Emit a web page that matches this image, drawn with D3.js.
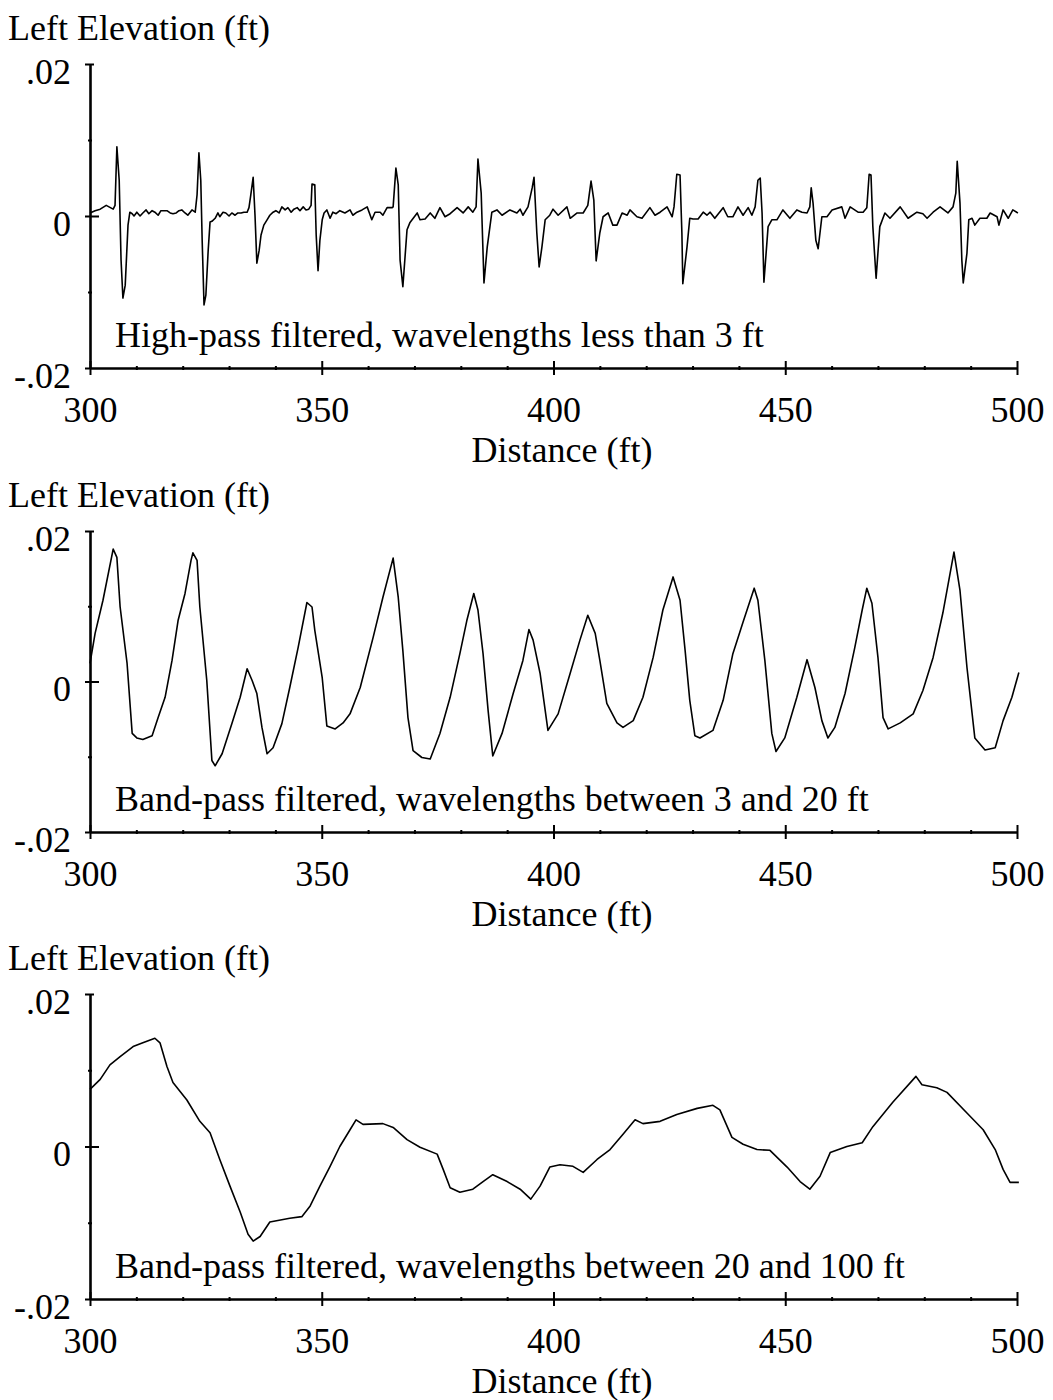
<!DOCTYPE html>
<html>
<head>
<meta charset="utf-8">
<script src="https://cdn.jsdelivr.net/npm/d3@7"></script>
<style>
  body { margin: 0; background: #fff; }
  svg text { font-family: "Liberation Serif", "Times New Roman", serif; fill: #000; }
</style>
</head>
<body>
<svg width="1053" height="1400"></svg>
<script>
// distance (ft), left elevation (ft)
var highPass = [
  [300.0,0.0004],[301.1,0.0007],[302.2,0.0009],[303.5,0.0014],[304.1,0.0012],[305.0,0.0009],[305.4,0.0014],[305.8,0.0091],
  [306.3,0.0047],[306.7,-0.0058],[307.1,-0.0108],[307.6,-0.0091],[308.2,-0.0012],[308.6,0.0005],[309.1,0.0003],[309.5,0.0000],
  [310.1,0.0005],[310.8,0.0000],[311.4,0.0004],[312.1,0.0008],[312.7,0.0003],[313.4,0.0007],[314.0,0.0005],[314.7,0.0001],
  [315.3,0.0007],[316.0,0.0007],[316.6,0.0007],[317.3,0.0004],[317.9,0.0003],[318.6,0.0004],[319.2,0.0007],[319.8,0.0008],
  [320.5,0.0004],[321.1,0.0001],[322.0,0.0008],[322.7,0.0005],[323.1,0.0028],[323.5,0.0083],[323.9,0.0047],[324.2,-0.0032],
  [324.6,-0.0117],[325.0,-0.0104],[325.5,-0.0045],[325.9,-0.0008],[326.3,-0.0007],[327.0,-0.0003],[327.6,0.0004],[328.0,-0.0001],
  [328.7,0.0005],[329.3,0.0004],[330.0,0.0000],[330.6,0.0004],[331.3,0.0001],[331.9,0.0004],[332.6,0.0004],[333.2,0.0005],
  [333.9,0.0005],[334.3,0.0011],[334.7,0.0028],[335.2,0.0051],[335.6,0.0001],[336.0,-0.0062],[336.5,-0.0045],[336.9,-0.0025],
  [337.5,-0.0012],[338.2,-0.0005],[338.8,0.0001],[339.5,0.0005],[340.1,0.0007],[340.8,0.0004],[341.4,0.0012],[342.1,0.0008],
  [342.7,0.0011],[343.4,0.0005],[344.0,0.0009],[344.7,0.0011],[345.3,0.0007],[346.0,0.0012],[346.6,0.0008],[347.2,0.0009],
  [347.7,0.0014],[347.9,0.0042],[348.5,0.0041],[348.8,-0.0025],[349.2,-0.0072],[349.6,-0.0032],[350.1,-0.0005],[350.5,0.0004],
  [351.1,0.0008],[351.8,-0.0003],[352.4,0.0005],[353.1,0.0003],[353.9,0.0007],[355.0,0.0004],[356.1,0.0008],[356.7,0.0001],
  [357.6,0.0005],[358.7,0.0008],[359.8,0.0012],[360.8,-0.0005],[361.5,0.0005],[362.6,0.0005],[363.2,0.0001],[364.1,0.0011],
  [365.2,0.0011],[365.4,0.0012],[366.0,0.0063],[366.5,0.0041],[366.9,-0.0058],[367.5,-0.0093],[368.4,-0.0018],[369.0,-0.0009],
  [370.6,0.0004],[371.2,-0.0005],[372.3,-0.0004],[373.4,0.0004],[374.4,-0.0003],[375.5,0.0011],[376.6,-0.0001],[377.7,0.0003],
  [379.2,0.0011],[380.5,0.0004],[381.6,0.0012],[382.6,0.0005],[383.3,0.0012],[383.7,0.0075],[384.4,0.0030],[385.0,-0.0088],
  [385.7,-0.0041],[386.7,0.0005],[387.8,0.0008],[388.9,0.0001],[390.6,0.0008],[392.1,0.0004],[392.8,0.0009],[393.4,0.0001],
  [394.5,0.0012],[395.4,0.0037],[395.8,0.0051],[396.4,-0.0022],[396.9,-0.0067],[397.5,-0.0041],[398.2,-0.0005],[399.2,0.0001],
  [399.9,0.0009],[401.0,0.0001],[402.9,0.0012],[403.6,-0.0003],[405.1,0.0004],[406.4,0.0004],[407.4,0.0014],[408.1,0.0046],
  [408.7,0.0021],[409.2,-0.0059],[410.0,-0.0022],[410.7,-0.0001],[411.8,0.0004],[412.8,-0.0012],[413.7,-0.0012],[414.8,0.0004],
  [415.9,0.0001],[416.5,0.0008],[418.0,-0.0001],[419.1,-0.0003],[420.8,0.0011],[421.9,0.0001],[423.0,0.0005],[424.5,0.0012],
  [425.6,-0.0001],[426.0,0.0012],[426.6,0.0055],[427.3,0.0054],[427.7,-0.0022],[427.9,-0.0089],[428.8,-0.0041],[429.4,-0.0003],
  [430.1,-0.0004],[431.2,-0.0004],[432.3,0.0005],[433.1,0.0001],[433.8,0.0005],[434.8,-0.0003],[436.6,0.0011],[437.6,-0.0001],
  [438.7,-0.0001],[439.8,0.0012],[440.9,0.0001],[442.0,0.0011],[442.8,0.0001],[443.5,0.0012],[444.1,0.0047],[444.6,0.0050],
  [445.0,0.0004],[445.4,-0.0087],[446.3,-0.0014],[447.1,-0.0005],[448.2,-0.0005],[449.5,0.0008],[451.0,-0.0003],[452.5,0.0008],
  [453.6,0.0005],[454.7,0.0004],[455.3,0.0012],[455.6,0.0037],[456.0,0.0017],[456.6,-0.0032],[457.1,-0.0043],[457.9,-0.0001],
  [459.0,-0.0001],[460.1,0.0008],[462.2,0.0012],[462.9,-0.0003],[464.0,0.0012],[465.7,0.0005],[466.8,0.0005],[467.6,0.0011],
  [468.1,0.0055],[468.5,0.0054],[468.9,-0.0014],[469.6,-0.0082],[470.4,-0.0014],[471.5,0.0004],[472.6,-0.0003],[474.8,0.0012],
  [476.5,-0.0003],[478.4,0.0005],[479.7,0.0003],[480.6,-0.0003],[481.9,0.0005],[483.4,0.0012],[485.1,0.0004],[486.2,0.0012],
  [486.8,0.0030],[487.1,0.0072],[487.7,0.0017],[488.1,-0.0058],[488.4,-0.0088],[489.2,-0.0049],[489.6,-0.0005],[490.3,-0.0003],
  [490.9,-0.0012],[492.0,-0.0003],[493.5,-0.0003],[494.2,0.0004],[495.7,-0.0001],[496.1,-0.0012],[497.0,0.0008],[498.1,-0.0003],
  [499.1,0.0008],[500.2,0.0004]
];

var band3to20 = [
  [300.0,0.0024],[301.1,0.0064],[302.8,0.0108],[305.0,0.0176],[305.8,0.0165],[306.5,0.0099],[308.0,0.0024],[309.1,-0.0069],
  [310.1,-0.0075],[311.4,-0.0077],[313.4,-0.0072],[314.7,-0.0048],[316.2,-0.0021],[317.7,0.0028],[319.0,0.0081],[320.5,0.0117],
  [321.8,0.0161],[322.2,0.0171],[323.1,0.0161],[323.7,0.0099],[325.2,0.0001],[326.3,-0.0105],[327.0,-0.0112],[328.5,-0.0096],
  [330.6,-0.0056],[332.4,-0.0021],[333.9,0.0017],[335.0,0.0001],[336.0,-0.0016],[337.1,-0.0061],[338.2,-0.0096],[339.5,-0.0088],
  [341.4,-0.0056],[343.1,-0.0008],[344.9,0.0045],[346.8,0.0105],[347.9,0.0099],[348.5,0.0068],[350.1,0.0005],[351.1,-0.0059],
  [352.9,-0.0063],[354.6,-0.0055],[356.1,-0.0043],[358.3,-0.0008],[361.1,0.0059],[363.2,0.0112],[365.4,0.0164],[366.5,0.0112],
  [367.5,0.0041],[368.6,-0.0048],[369.7,-0.0092],[371.6,-0.0101],[373.4,-0.0103],[375.5,-0.0069],[377.7,-0.0021],[379.8,0.0037],
  [381.3,0.0081],[382.8,0.0117],[383.7,0.0095],[384.8,0.0037],[385.9,-0.0039],[386.9,-0.0099],[388.9,-0.0069],[391.3,-0.0016],
  [393.4,0.0028],[394.7,0.0069],[395.6,0.0055],[397.1,0.0011],[398.8,-0.0065],[401.0,-0.0043],[403.6,0.0011],[405.7,0.0055],
  [407.4,0.0088],[409.0,0.0064],[410.0,0.0028],[411.5,-0.0029],[413.7,-0.0055],[415.0,-0.0061],[417.2,-0.0052],[419.3,-0.0021],
  [421.5,0.0032],[423.6,0.0095],[425.8,0.0139],[427.3,0.0108],[428.4,0.0041],[429.4,-0.0025],[430.5,-0.0072],[431.6,-0.0075],
  [434.4,-0.0065],[436.6,-0.0025],[438.7,0.0037],[440.9,0.0079],[443.3,0.0124],[444.1,0.0108],[445.6,0.0028],[447.1,-0.0069],
  [448.0,-0.0093],[449.9,-0.0075],[452.5,-0.0021],[454.7,0.0029],[456.4,-0.0008],[457.9,-0.0052],[459.2,-0.0075],[460.7,-0.0061],
  [462.9,-0.0016],[465.0,0.0045],[466.6,0.0095],[467.6,0.0124],[468.7,0.0104],[470.0,0.0032],[471.1,-0.0048],[472.2,-0.0063],
  [474.8,-0.0055],[477.6,-0.0043],[479.7,-0.0012],[481.9,0.0032],[484.0,0.0091],[486.4,0.0172],[487.7,0.0121],[489.2,0.0019],
  [490.9,-0.0075],[493.1,-0.0091],[495.3,-0.0088],[497.0,-0.0052],[498.9,-0.0021],[500.4,0.0012]
];

var band20to100 = [
  [300.0,0.0075],[302.2,0.0088],[304.3,0.0107],[306.5,0.0118],[309.3,0.0131],[311.4,0.0136],[314.0,0.0142],[315.1,0.0136],
  [316.6,0.0105],[317.9,0.0084],[320.9,0.0061],[323.7,0.0033],[325.9,0.0018],[328.0,-0.0017],[330.2,-0.0052],[332.4,-0.0086],
  [334.1,-0.0115],[335.2,-0.0124],[336.7,-0.0118],[338.8,-0.0099],[343.1,-0.0094],[345.7,-0.0092],[347.5,-0.0078],[349.6,-0.0052],
  [351.8,-0.0026],[353.9,0.0000],[356.1,0.0022],[357.4,0.0035],[358.9,0.0029],[363.2,0.0030],[365.4,0.0025],[368.4,0.0009],
  [371.2,-0.0001],[374.9,-0.0010],[376.2,-0.0030],[377.7,-0.0054],[379.8,-0.0060],[382.6,-0.0056],[384.8,-0.0046],[386.9,-0.0037],
  [390.0,-0.0046],[392.8,-0.0056],[395.1,-0.0069],[397.1,-0.0052],[399.2,-0.0027],[401.4,-0.0024],[404.2,-0.0026],[406.4,-0.0034],
  [409.4,-0.0017],[412.2,-0.0004],[415.0,0.0016],[417.6,0.0035],[419.3,0.0030],[423.0,0.0033],[426.6,0.0042],[431.0,0.0050],
  [434.4,0.0054],[435.9,0.0048],[438.5,0.0012],[440.9,0.0003],[443.9,-0.0004],[446.7,-0.0005],[450.4,-0.0027],[453.2,-0.0046],
  [455.3,-0.0056],[457.5,-0.0039],[459.7,-0.0008],[463.3,0.0000],[466.6,0.0005],[468.9,0.0026],[473.2,0.0058],[478.2,0.0092],
  [479.5,0.0081],[482.7,0.0077],[484.9,0.0071],[489.2,0.0044],[492.7,0.0022],[495.3,-0.0004],[497.0,-0.0030],[498.5,-0.0047],
  [500.4,-0.0047]
];

var captions = [
  "High-pass filtered, wavelengths less than 3 ft",
  "Band-pass filtered, wavelengths between 3 and 20 ft",
  "Band-pass filtered, wavelengths between 20 and 100 ft"
];
var xMajor = [300, 350, 400, 450, 500];
var xMinor = [310, 320, 330, 340, 360, 370, 380, 390, 410, 420, 430, 440, 460, 470, 480, 490];
var yMajor = [-0.02, 0, 0.02];
var yMinor = [-0.01, 0.01];

var svg = d3.select("svg"),
    left = 90, right = 1017;

var x = d3.scaleLinear().domain([300, 500]).range([left, right]);

function fmt(d) {
  if (d === 0) return "0";
  return d3.format(".2f")(d).replace("\u2212", "-").replace("0.", ".");
}

function clean(sel) {
  sel.attr("font-size", null).attr("font-family", null);
  sel.selectAll("line").attr("stroke", "#000").attr("stroke-width", 2);
  sel.select(".domain").attr("stroke", "#000").attr("stroke-width", 2.6);
}

function panel(top, bottom, data, caption) {
  var y = d3.scaleLinear().domain([-0.02, 0.02]).range([bottom, top]);
  var g = svg.append("g").attr("font-size", 36);

  g.append("text").attr("x", 8).attr("y", top - 24).text("Left Elevation (ft)");
  g.append("text").attr("x", 115).attr("y", bottom - 21).text(caption);

  // y axis
  var ya = g.append("g").attr("transform", "translate(" + left + ",0)")
    .call(d3.axisLeft(y).tickValues(yMajor).tickSize(5).tickSizeOuter(0).tickFormat(fmt));
  clean(ya);
  ya.selectAll("text").attr("x", -19).attr("dy", 19);
  g.append("g").attr("transform", "translate(" + left + ",0)")
    .call(d3.axisRight(y).tickValues([0.02]).tickSize(4).tickFormat(""))
    .call(clean).select(".domain").remove();
  g.append("g").attr("transform", "translate(" + left + ",0)")
    .call(d3.axisRight(y).tickValues([0]).tickSize(9).tickFormat(""))
    .call(clean).select(".domain").remove();
  g.append("g").attr("transform", "translate(" + (left + 2) + ",0)")
    .call(d3.axisLeft(y).tickValues(yMinor).tickSize(4).tickFormat(""))
    .call(clean).select(".domain").remove();

  // x axis
  var xa = g.append("g").attr("transform", "translate(0," + bottom + ")")
    .call(d3.axisBottom(x).tickValues(xMajor).tickSize(7).tickSizeOuter(0).tickFormat(d3.format("d")));
  clean(xa);
  xa.selectAll("text").attr("y", 54).attr("dy", 0);
  g.append("g").attr("transform", "translate(0," + bottom + ")")
    .call(d3.axisTop(x).tickValues(xMajor).tickSize(7).tickFormat(""))
    .call(clean).select(".domain").remove();
  g.append("g").attr("transform", "translate(0," + (bottom + 2) + ")")
    .call(d3.axisTop(x).tickValues(xMinor).tickSize(4).tickFormat(""))
    .call(clean).select(".domain").remove();

  g.append("text").attr("x", 562).attr("y", bottom + 94)
    .attr("text-anchor", "middle").text("Distance (ft)");

  var line = d3.line()
    .x(function(d) { return x(d[0]); })
    .y(function(d) { return y(d[1]); });

  g.append("path").datum(data)
    .attr("fill", "none")
    .attr("stroke", "#000")
    .attr("stroke-width", 1.6)
    .attr("stroke-linejoin", "round")
    .attr("d", line);
}

panel(64, 368, highPass, captions[0]);
panel(531, 832, band3to20, captions[1]);
panel(994, 1299, band20to100, captions[2]);
</script>
</body>
</html>
